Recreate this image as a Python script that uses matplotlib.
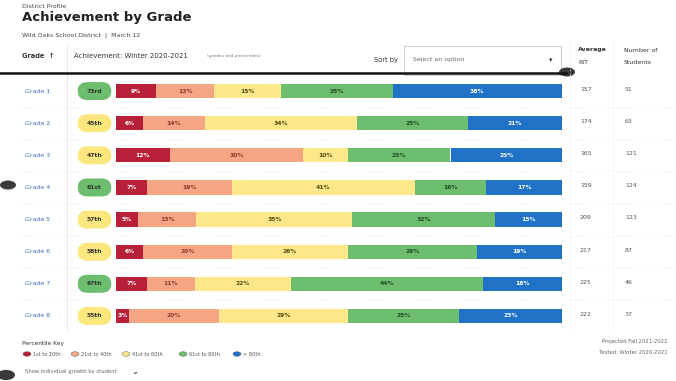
import matplotlib
matplotlib.use("Agg")
import numpy as np
import matplotlib.pyplot as plt
from matplotlib.patches import FancyBboxPatch, Rectangle, Circle
from matplotlib.lines import Line2D
from matplotlib.transforms import blended_transform_factory

# data
grades = ["Grade 1", "Grade 2", "Grade 3", "Grade 4",
          "Grade 5", "Grade 6", "Grade 7", "Grade 8"]
percentile = ["73rd", "45th", "47th", "61st", "57th", "58th", "67th", "55th"]
pct_value = [73, 45, 47, 61, 57, 58, 67, 55]
band_1_20 = [9, 6, 12, 7, 5, 6, 7, 3]
band_21_40 = [13, 14, 30, 19, 13, 20, 11, 20]
band_41_60 = [15, 34, 10, 41, 35, 26, 22, 29]
band_61_80 = [25, 25, 23, 16, 32, 29, 44, 25]
band_80 = [38, 21, 25, 17, 15, 19, 18, 23]
avg_rit = [157, 174, 165, 159, 209, 217, 225, 222]
n_students = [51, 63, 121, 124, 123, 87, 46, 37]
key_labels = ["1st to 20th", "21st to 40th", "41st to 60th", "61st to 80th", "> 80th"]

colors = ["#b8203a", "#f4a684", "#fbe88a", "#6cbd6e", "#1f72c6"]
text_cols = ["white", "#8a3a2a", "#5a4a10", "#244a24", "white"]

W, H = 676, 381
fig = plt.figure(figsize=(W / 100, H / 100), dpi=100)
fig.patch.set_facecolor("white")


def fx(x):
    return x / W


def fy(y):
    return 1 - y / H


def ftext(x, y, s, **kw):
    kw.setdefault("va", "center")
    kw.setdefault("fontsize", 4.5)
    kw.setdefault("color", "#444444")
    fig.text(fx(x), fy(y), s, **kw)


# header
ftext(22, 6, "District Profile", fontsize=4.5)
ftext(22, 18, "Achievement by Grade", fontsize=9.5, weight="bold", color="#222222")
ftext(22, 35, "Wild Oaks School District  |  March 12", fontsize=4.5)
ftext(22, 56, "Grade  \u2191", fontsize=4.8, weight="bold", color="#333333")
ftext(74, 56, "Achievement: Winter 2020-2021", fontsize=5, color="#333333")
ftext(207, 56, "(grades and percentiles)", fontsize=3.2, color="#777777")
ftext(398, 60, "Sort by", fontsize=4.8, ha="right", color="#333333")
ftext(413, 60, "Select an option", fontsize=4.5, color="#666666")
ftext(549, 60, "\u25be", fontsize=5, color="#333333")
fig.add_artist(Rectangle((fx(404), fy(75)), fx(157), 29 / H, transform=fig.transFigure,
                         fill=False, ec="#cccccc", lw=0.7))
ftext(578, 50, "Average", fontsize=4.5, weight="bold", color="#333333")
ftext(578, 63, "RIT", fontsize=4.5, color="#333333")
ftext(624, 50, "Number of", fontsize=4.5, color="#333333")
ftext(624, 63, "Students", fontsize=4.5, color="#333333")

# separators
fig.add_artist(Line2D([fx(67), fx(67)], [fy(44), fy(330)], transform=fig.transFigure,
                      color="#e6e6e6", lw=0.6))
fig.add_artist(Line2D([fx(570), fx(570)], [fy(40), fy(330)], transform=fig.transFigure,
                      color="#e6e6e6", lw=0.6, ls=(0, (2, 3))))
fig.add_artist(Line2D([fx(613), fx(613)], [fy(40), fy(330)], transform=fig.transFigure,
                      color="#e6e6e6", lw=0.6, ls=(0, (2, 3))))
fig.add_artist(Line2D([0, fx(566)], [fy(73), fy(73)], transform=fig.transFigure,
                      color="#111111", lw=1.8))

# bars
ax = fig.add_axes([fx(116), fy(332), fx(446), 257 / H])
n = len(grades)
y = np.arange(n)
bands = np.array([band_1_20, band_21_40, band_41_60, band_61_80, band_80], dtype=float)
widths = bands / bands.sum(axis=0) * 100
left = np.zeros(n)
for k in range(5):
    ax.barh(y, widths[k], left=left, height=0.44, color=colors[k], edgecolor="none")
    for i in range(n):
        ax.text(left[i] + widths[k][i] / 2, y[i], f"{int(bands[k][i])}%",
                ha="center", va="center", fontsize=4.3, weight="bold", color=text_cols[k])
    left += widths[k]
ax.set_xlim(0, 100)
ax.set_ylim(n - 0.5, -0.5)
ax.axis("off")

# row labels and numbers
tr = blended_transform_factory(fig.transFigure, ax.transData)
for i in range(n):
    ax.text(fx(25), i, grades[i], transform=tr, ha="left", va="center",
            fontsize=4.5, color="#3a6fb5", clip_on=False)
    ax.text(fx(580), i - 0.05, str(avg_rit[i]), transform=tr, ha="left", va="center",
            fontsize=4.5, color="#555555", clip_on=False)
    ax.text(fx(625), i - 0.05, str(n_students[i]), transform=tr, ha="left", va="center",
            fontsize=4.5, color="#555555", clip_on=False)
    if i < n - 1:
        ax.add_line(Line2D([fx(20), fx(676)], [i + 0.5, i + 0.5], transform=tr,
                           color="#e8e8e8", lw=0.5, ls=(0, (1, 2)), clip_on=False))

# percentile pills
pax = fig.add_axes([fx(77), fy(332), fx(35), 257 / H])
pax.set_xlim(0, 1)
pax.set_ylim(n - 0.5, -0.5)
pax.axis("off")
for i in range(n):
    c = "#6cbd6e" if pct_value[i] > 60 else "#fbe77e"
    pax.add_patch(FancyBboxPatch((0.02, i - 0.28), 0.96, 0.56,
                                 boxstyle="round,pad=0,rounding_size=0.28",
                                 fc=c, ec="none", clip_on=False))
    pax.text(0.5, i, percentile[i], ha="center", va="center", fontsize=4.3,
             weight="bold", color="#333333")

# key
ftext(22, 343, "Percentile Key", fontsize=4.2, color="#333333")
key_x = [27, 75, 126, 183, 237]
for k in range(5):
    fig.add_artist(Circle((fx(key_x[k]), fy(354)), 4 / W, transform=fig.transFigure,
                          fc=colors[k], ec="#555555", lw=0.3))
    ftext(key_x[k] + 6, 354, key_labels[k], fontsize=3.6, color="#555555")
ftext(25, 371, "Show individual growth by student", fontsize=3.8, color="#666666")
ftext(131, 371, "\u2304", fontsize=6, weight="bold", color="#333333")
ftext(668, 341, "Projected Fall 2021-2022", fontsize=3.8, ha="right", color="#666666")
ftext(668, 352, "Tested: Winter 2020-2021", fontsize=3.8, ha="right", color="#666666")

# punch-hole marks on the scan
for (cx, cy, r) in [(567, 72, 8), (8, 185, 8), (6, 375, 9)]:
    fig.add_artist(Circle((fx(cx), fy(cy)), r / W, transform=fig.transFigure,
                          fc="#3a3a3a", ec="none"))

fig.savefig("out.png", dpi=100, facecolor="white")
